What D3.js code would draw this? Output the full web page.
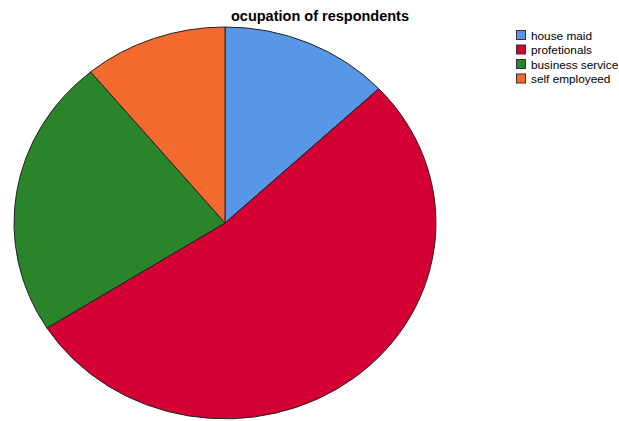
<!DOCTYPE html>
<html>
<head>
<meta charset="utf-8">
<script src="https://cdn.jsdelivr.net/npm/d3@7"></script>
<style>
  html, body { margin: 0; padding: 0; background: #fff; }
  svg { display: block; font-family: Arial, "Liberation Sans", sans-serif; }
</style>
</head>
<body>
<svg id="chart" width="619" height="421"></svg>
<script>
// Occupation categories and their shares (percent)
const categories = ["house maid", "profetionals", "business service", "self employeed"];
const values = [13, 53, 23, 11];
const colors = ["#5896E6", "#D40034", "#2A852A", "#F26A2E"];
const title = "ocupation of respondents";

const svg = d3.select("#chart");

// Elliptical pie: unit-radius arcs stretched horizontally and vertically
const cx = 225, cy = 223, rx = 211, ry = 196;

const pie = d3.pie().sort(null).value(d => d.value);
const arc = d3.arc().innerRadius(0).outerRadius(1);
const data = categories.map((c, i) => ({ name: c, value: values[i], color: colors[i] }));

const g = svg.append("g").attr("transform", `translate(${cx},${cy}) scale(${rx},${ry})`);
g.selectAll("path")
  .data(pie(data))
  .join("path")
  .attr("d", arc)
  .attr("fill", d => d.data.color)
  .attr("stroke", "#222")
  .attr("stroke-width", 1)
  .attr("vector-effect", "non-scaling-stroke");

// Title
svg.append("text")
  .attr("x", 320).attr("y", 21)
  .attr("text-anchor", "middle")
  .attr("font-size", 14.5).attr("font-weight", "bold")
  .attr("fill", "#000")
  .text(title);

// Legend
const legend = svg.append("g").attr("transform", "translate(516,30)");
const rowH = 14.5;
const items = legend.selectAll("g").data(data).join("g")
  .attr("transform", (d, i) => `translate(0,${i * rowH})`);
items.append("rect")
  .attr("x", 0.5).attr("y", 0.5).attr("width", 9).attr("height", 9)
  .attr("fill", d => d.color).attr("stroke", "#333").attr("stroke-width", 1);
items.append("text")
  .attr("x", 15).attr("y", 9.5)
  .attr("font-size", 11.8).attr("fill", "#000")
  .text(d => d.name);
</script>
</body>
</html>
